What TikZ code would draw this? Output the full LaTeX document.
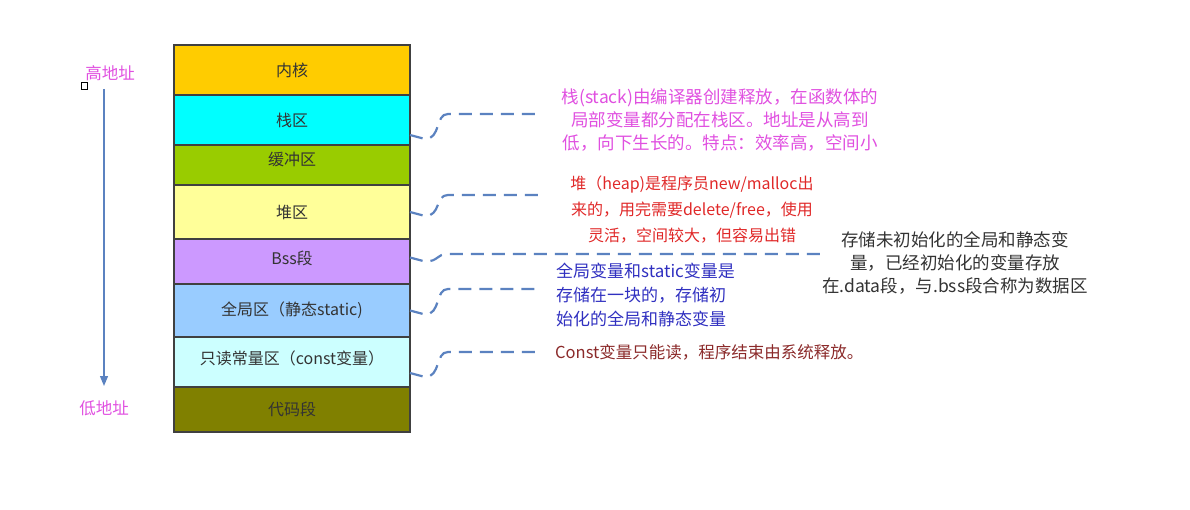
\documentclass[tikz,border=0pt]{standalone}
\usepackage{fontspec}
\setmainfont{Noto Sans CJK SC}
\definecolor{MemKernel}{HTML}{FFCC00}
\definecolor{MemStack}{HTML}{00FFFF}
\definecolor{MemBuffer}{HTML}{99CC00}
\definecolor{MemHeap}{HTML}{FFFF99}
\definecolor{MemBss}{HTML}{CC99FF}
\definecolor{MemGlobal}{HTML}{99CCFF}
\definecolor{MemConst}{HTML}{CCFFFF}
\definecolor{MemCode}{HTML}{808000}
\definecolor{MemEdge}{HTML}{404040}
\definecolor{MemLine}{HTML}{5B82C0}
\definecolor{MemPink}{HTML}{E050E0}
\definecolor{MemRed}{HTML}{E02828}
\definecolor{MemBlue}{HTML}{3030C0}
\definecolor{MemBrown}{HTML}{8B2A2A}
\definecolor{MemGray}{HTML}{333333}
\usetikzlibrary{positioning,arrows.meta,calc}
\tikzset{
  seg/.style={draw=MemEdge, line width=1.2pt, minimum width=236pt, outer sep=0pt,
    inner sep=0pt, text=MemGray, font=\fontsize{16}{18}\selectfont},
  brace/.style={MemLine, line width=2.2pt, dash pattern=on 13pt off 8pt},
  note/.style={inner sep=0pt, align=center},
}

\begin{document}
\begin{tikzpicture}[x=1pt, y=-1pt]
  \useasboundingbox (0,0) rectangle (1190,510);
  % memory layout
  \node[seg, fill=MemKernel, minimum height=50pt, anchor=north west] (kernel) at (174,45) {内核};
  \node[seg, fill=MemStack, minimum height=50pt, below=0pt of kernel] (stack) {栈区};
  \node[seg, fill=MemBuffer, minimum height=40pt, text depth=12pt, below=0pt of stack] (buffer) {缓冲区};
  \node[seg, fill=MemHeap, minimum height=54pt, below=0pt of buffer] (heap) {堆区};
  \node[seg, fill=MemBss, minimum height=45pt, text depth=7pt, below=0pt of heap] (bss) {Bss段};
  \node[seg, fill=MemGlobal, minimum height=53pt, below=0pt of bss] (global) {全局区（静态static)};
  \node[seg, fill=MemConst, minimum height=50pt, text depth=9pt, below=0pt of global] (const) {只读常量区（const变量）};
  \node[seg, fill=MemCode, minimum height=45pt, below=0pt of const] (code) {代码段};

  % address direction
  \node[text=MemPink, font=\fontsize{16.5}{18}\selectfont, inner sep=0pt] (hiaddr) at (110,73) {高地址};
  \node[text=MemPink, font=\fontsize{16.5}{18}\selectfont, inner sep=0pt] (loaddr) at (104,408) {低地址};
  \node[draw, line width=0.9pt, minimum size=6.5pt, inner sep=0pt] (handle) at (84.5,86) {};
  \draw[MemLine, line width=1.2pt, -{Triangle[width=8pt, length=10pt]}]
    (loaddr.north |- 0,89) -- (loaddr.north |- 0,386);

  % notes
  \node[note, text=MemPink, font=\fontsize{17.5}{23}\selectfont] (stacknote) at (720,120)
    {栈(stack)由编译器创建释放，在函数体的\\局部变量都分配在栈区。地址是从高到\\低，向下生长的。特点：效率高，空间小};
  \node[note, text=MemRed, font=\fontsize{16}{26}\selectfont] (heapnote) at (692,210)
    {堆（heap)是程序员new/malloc出\\来的，用完需要delete/free，使用\\灵活，空间较大，但容易出错};
  \node[note, text=MemGray, font=\fontsize{17.5}{23}\selectfont] (bssnote) at (955,263)
    {存储未初始化的全局和静态变\\量，已经初始化的变量存放\\在.data段，与.bss段合称为数据区};
  \node[note, align=left, anchor=west, text=MemBlue, font=\fontsize{17}{24}\selectfont] (globalnote) at (556,295)
    {全局变量和static变量是\\存储在一块的，存储初\\始化的全局和静态变量};
  \node[note, anchor=west, text=MemBrown, font=\fontsize{16.5}{20}\selectfont] (constnote) at (555,352)
    {Const变量只能读，程序结束由系统释放。};

  % connector ends
  \coordinate (stacktip) at (540,114);
  \coordinate (heaptip) at (540,195);
  \coordinate (bsstip) at (825,254);
  \coordinate (globaltip) at (540,289);
  \coordinate (consttip) at (540,352);

  % dashed braces
  \draw[brace] ([yshift=-15pt]stack.east) -- ++(15,4)
    .. controls +(16,0) and +(-13,0) .. (stacktip -| 448,0) -- (stacktip);
  \draw[brace] (heap.east) -- ++(15,4)
    .. controls +(16,0) and +(-13,0) .. (heaptip -| 448,0) -- (heaptip);
  \draw[brace] ([yshift=4pt]bss.east) -- ++(15,4)
    .. controls +(14,0) and +(-12,0) .. (bsstip -| 448,0) -- (bsstip);
  \draw[brace] (global.east) -- ++(15,4)
    .. controls +(16,0) and +(-13,0) .. (globaltip -| 448,0) -- (globaltip);
  \draw[brace] ([yshift=-11pt]const.east) -- ++(15,4)
    .. controls +(16,0) and +(-13,0) .. (consttip -| 448,0) -- (consttip);
\end{tikzpicture}
\end{document}
